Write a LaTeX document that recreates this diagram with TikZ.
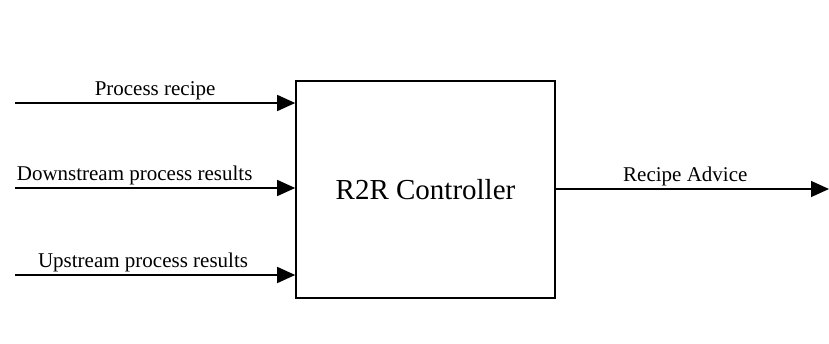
\documentclass[tikz,border=0pt]{standalone}
\usepackage{fontspec}
\setmainfont{Liberation Serif}
\usepackage{tikz}
\usetikzlibrary{positioning,arrows.meta}

\begin{document}
\begin{tikzpicture}[x=1pt,y=1pt]
        %
        % `block' is the controller box.
        % `flow' is used for the signal arrows, `sig' for their labels.
        \tikzstyle{block} = [draw,line width=1.6pt,minimum width=259pt,minimum height=217pt,inner sep=0pt,font=\fontsize{29}{34}\selectfont]
        \tikzstyle{flow} = [line width=1.4pt,-{Triangle[length=18pt,width=16pt]}]
        \tikzstyle{sig} = [above,inner sep=2pt,font=\fontsize{21}{25}\selectfont]
        \useasboundingbox (0,0) rectangle (829,343);
        %
        % Controller
        \node[block] (ctrl) at (425.5,153.5) {R2R Controller};
        %
        % Inputs
        \coordinate (recipe) at (15,240);
        \coordinate (down) at (15,155);
        \coordinate (up) at (15,68);
        \draw[flow] (recipe) -- node[sig] {Process recipe} (recipe -| ctrl.west);
        \draw[flow] (down) -- node[sig,pos=0.427] {Downstream process results} (down -| ctrl.west);
        \draw[flow] (up) -- node[sig,pos=0.457] {Upstream process results} (up -| ctrl.west);
        %
        % Output
        \coordinate (advice) at (829,154);
        \draw[flow] (ctrl.east |- advice) -- node[sig,pos=0.474] {Recipe Advice} (advice);
        %
    \end{tikzpicture}
\end{document}
